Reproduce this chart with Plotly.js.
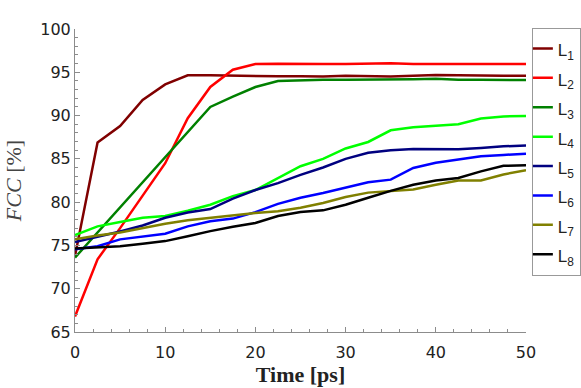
<!DOCTYPE html>
<html>
<head>
<meta charset="utf-8">
<script src="https://cdn.plot.ly/plotly-3.0.1.min.js"></script>
<style>
  html, body {margin: 0; padding: 0; background: #fff;}
  #plot {width: 581px; height: 388px;}
</style>
</head>
<body>
<div id="plot"></div>
<script>
// time axis, ps
const time = [0, 2.5, 5, 7.5, 10, 12.5, 15, 17.5, 20, 22.5, 25, 27.5, 30, 32.5, 35, 37.5, 40, 42.5, 45, 47.5, 50];

// FCC fraction per series, %
const l1 = [73.8, 86.9, 88.8, 91.8, 93.6, 94.65, 94.65, 94.6, 94.6, 94.55, 94.55, 94.5, 94.6, 94.55, 94.5, 94.6, 94.7, 94.65, 94.6, 94.6, 94.6];
const l2 = [66.8, 73.4, 77.0, 80.7, 84.5, 89.7, 93.3, 95.3, 95.95, 96.0, 95.95, 95.95, 95.95, 96.0, 96.05, 95.95, 95.95, 95.95, 95.95, 95.95, 95.95];
const l3 = [73.6, 76.5, 79.4, 82.3, 85.3, 88.2, 91.0, 92.2, 93.3, 94.0, 94.1, 94.15, 94.15, 94.15, 94.2, 94.2, 94.25, 94.15, 94.15, 94.15, 94.1];
const l4 = [76.2, 77.2, 77.7, 78.2, 78.4, 79.0, 79.7, 80.7, 81.4, 82.8, 84.15, 85.0, 86.2, 86.95, 88.3, 88.65, 88.85, 89.0, 89.65, 89.9, 89.95];
const l5 = [75.4, 76.0, 76.6, 77.3, 78.2, 78.8, 79.2, 80.4, 81.4, 82.2, 83.15, 84.0, 85.0, 85.7, 86.0, 86.15, 86.1, 86.1, 86.25, 86.45, 86.55];
const l6 = [74.55, 74.9, 75.7, 76.0, 76.35, 77.2, 77.8, 78.1, 78.85, 79.8, 80.5, 81.05, 81.7, 82.3, 82.6, 83.95, 84.55, 84.95, 85.3, 85.45, 85.6];
const l7 = [75.7, 76.15, 76.5, 77.0, 77.5, 77.9, 78.2, 78.45, 78.75, 78.95, 79.35, 79.9, 80.6, 81.1, 81.3, 81.45, 82.0, 82.5, 82.5, 83.2, 83.7];
const l8 = [74.65, 74.8, 74.9, 75.2, 75.5, 76.05, 76.65, 77.15, 77.6, 78.4, 78.85, 79.05, 79.7, 80.5, 81.3, 82.0, 82.5, 82.8, 83.55, 84.2, 84.25];

const series = [l1, l2, l3, l4, l5, l6, l7, l8];
const names = ['1', '2', '3', '4', '5', '6', '7', '8'];
const colors = ['#800000', '#ff0000', '#008000', '#00ff00', '#000080', '#0000ff', '#808000', '#000000'];

let data = series.map(function(vals, i) {
    return {
        x: time,
        y: vals,
        type: 'scatter',
        mode: 'lines',
        name: '<span style="font-size:17px">L<sub>' + names[i] + '</sub></span>',
        line: {color: colors[i], width: 2.5}
    };
});

const axisGrey = '#8c8c8c';

let layout = {
    width: 581,
    height: 388,
    margin: {l: 75, r: 55, t: 29, b: 56, autoexpand: false},
    paper_bgcolor: '#fff',
    plot_bgcolor: '#fff',
    font: {family: 'DejaVu Sans, sans-serif', size: 16, color: '#222'},
    xaxis: {
        range: [0, 50],
        dtick: 10,
        ticks: 'inside',
        ticklen: 5,
        tickcolor: axisGrey,
        ticklabelstandoff: 6,
        showline: true,
        linecolor: axisGrey,
        showgrid: false,
        zeroline: false,
        minor: {dtick: 2, ticks: 'inside', ticklen: 3, tickcolor: axisGrey},
        title: {text: '<b>Time [ps]</b>', font: {family: 'Liberation Serif, serif', size: 22, color: '#222'}, standoff: 4}
    },
    yaxis: {
        range: [65, 100],
        dtick: 5,
        ticks: 'inside',
        ticklen: 5,
        tickcolor: axisGrey,
        showline: true,
        linecolor: axisGrey,
        showgrid: false,
        zeroline: false,
        minor: {dtick: 1, ticks: 'inside', ticklen: 3, tickcolor: axisGrey},
        title: {text: '<i>FCC</i> [%]', font: {family: 'Liberation Serif, serif', size: 22, color: '#444'}, standoff: 12}
    },
    legend: {
        x: 1.013,
        y: 1.004,
        xanchor: 'left',
        yanchor: 'top',
        bgcolor: '#fff',
        bordercolor: '#999',
        borderwidth: 1,
        itemwidth: 30,
        indentation: -15,
        maxheight: 340,
        font: {family: 'Liberation Sans, sans-serif', size: 20.3, color: '#222'}
    },
    showlegend: true
};

Plotly.newPlot('plot', data, layout, {displayModeBar: false, staticPlot: true});
</script>
</body>
</html>
